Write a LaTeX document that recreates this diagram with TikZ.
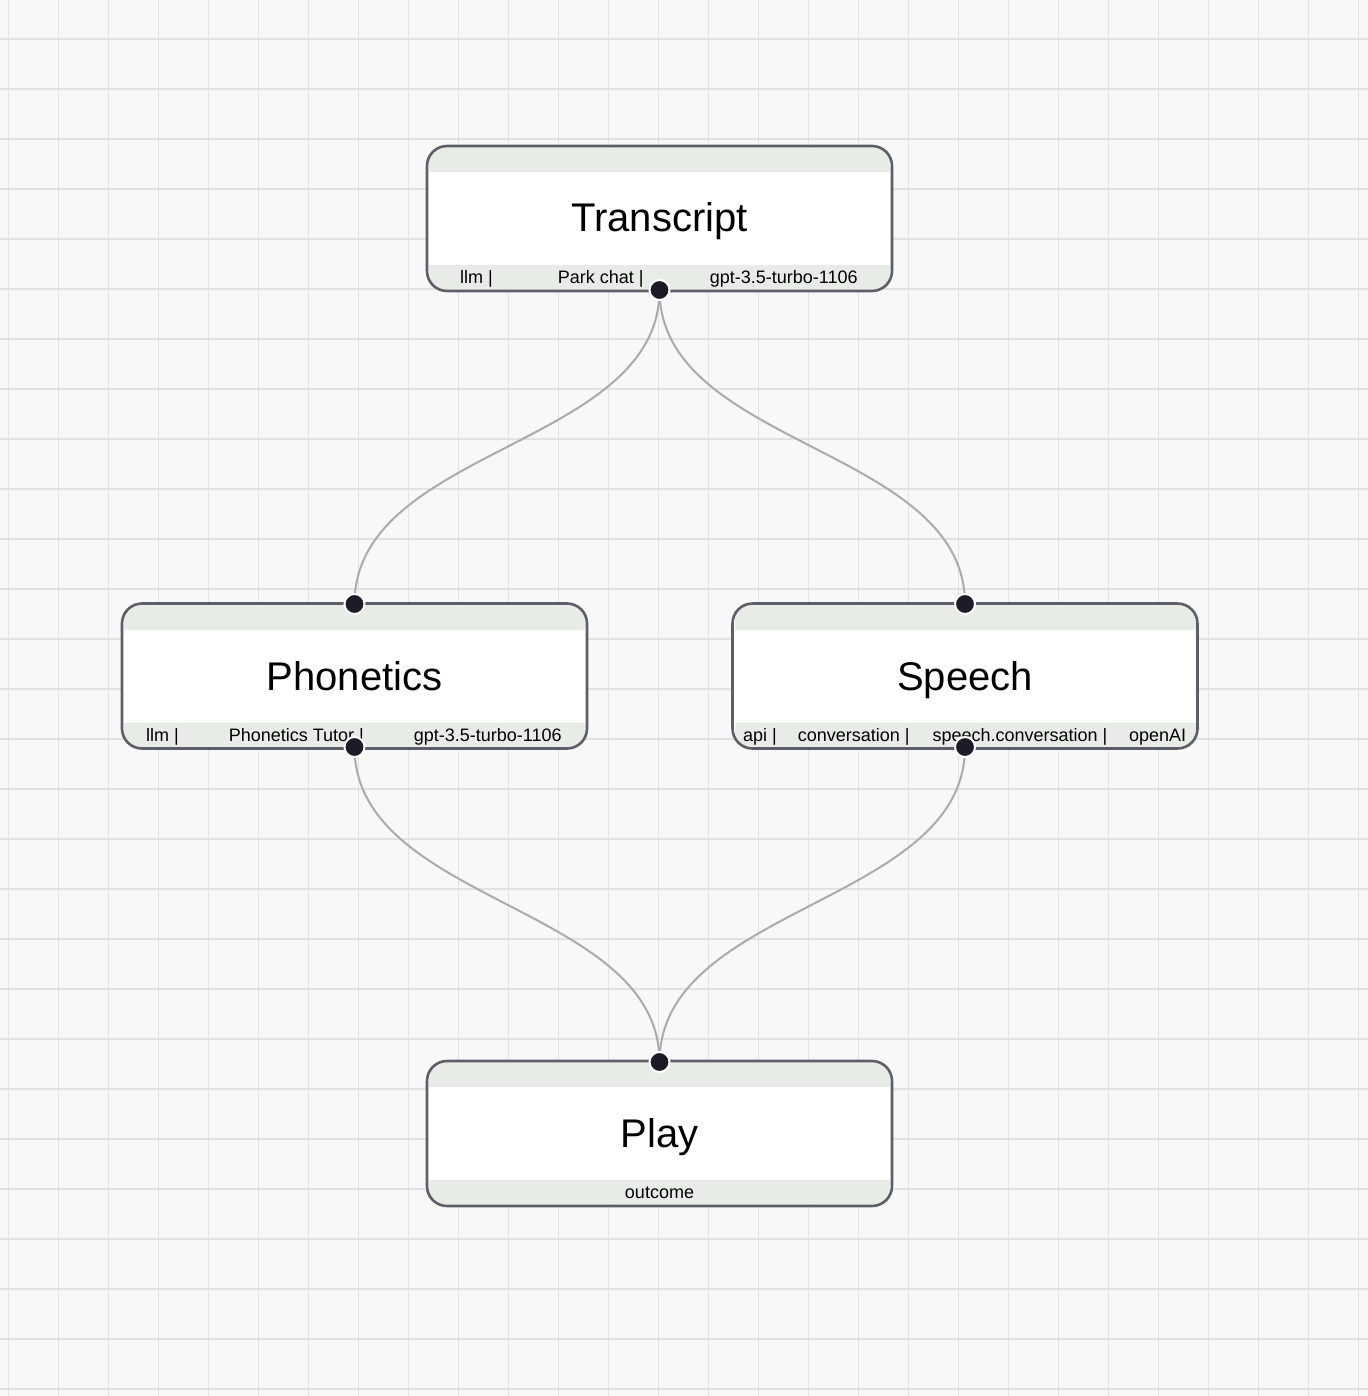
\documentclass[tikz,border=0pt]{standalone}
\usepackage{fontspec}
\setmainfont{Liberation Sans}
\definecolor{bgc}{HTML}{F8F8F8}
\definecolor{gridc}{HTML}{E2E2E2}
\definecolor{bandc}{HTML}{E8ECE7}
\definecolor{borderc}{HTML}{5E5E68}
\definecolor{edgec}{HTML}{ABABAF}
\definecolor{dotc}{HTML}{1C1C28}
\begin{document}
\begin{tikzpicture}[x=0.5pt,y=-0.5pt,
  gridline/.style={draw=gridc,line width=0.6pt},
  boxnode/.style={rectangle,minimum width=232.5pt,minimum height=72.5pt,inner sep=0pt,outer sep=0pt,fill=white,rounded corners=10pt},
  boxborder/.style={draw=borderc,line width=1.3pt,rounded corners=10pt},
  band/.style={fill=bandc},
  title/.style={anchor=base,inner sep=0pt,font=\fontsize{20pt}{24pt}\selectfont},
  lbl/.style={anchor=base,inner sep=0pt,font=\fontsize{9pt}{11pt}\selectfont},
  edge/.style={draw=edgec,line width=1pt},
  port/.style={circle,fill=dotc,draw=white,line width=1pt,minimum size=10pt,inner sep=0pt}
]
\fill[bgc] (0,0) rectangle (1368,1396);
\useasboundingbox (0,0) rectangle (1368,1396);
\foreach \i in {0,...,27} {\draw[gridline] (8.5+50*\i,0) -- (8.5+50*\i,1396);}
\foreach \j in {0,...,27} {\draw[gridline] (0,39+50*\j) -- (1368,39+50*\j);}

% boxes
\node[boxnode] (tr) at (659.5,218.5) {};
\node[boxnode] (ph) at (354.5,676) {};
\node[boxnode] (sp) at (965,676) {};
\node[boxnode] (pl) at (659.5,1133.5) {};

\foreach \n in {tr,ph,sp,pl} {
  \begin{scope}
  \clip[rounded corners=10pt] (\n.south west) rectangle (\n.north east);
  \fill[band] ([shift={(2,1)}]\n.north west) rectangle ([shift={(-2,26)}]\n.north east);
  \fill[band] ([shift={(2,-26)}]\n.south west) rectangle ([shift={(-2,-1)}]\n.south east);
  \end{scope}
  \draw[boxborder] (\n.south west) rectangle (\n.north east);
}

% titles
\node[title] (tr-title) at (659.5,232) {Transcript};
\node[title] (ph-title) at (354.5,690) {Phonetics};
\node[title] (sp-title) at (965,690) {Speech};
\node[title] (pl-title) at (659.5,1147) {Play};

% labels
\node[lbl] (tr-l1) at (476.5,283) {llm |};
\node[lbl] (tr-l2) at (600.8,283) {Park chat |};
\node[lbl] (tr-l3) at (783.8,283) {gpt-3.5-turbo-1106};
\node[lbl] (ph-l1) at (162.5,741) {llm |};
\node[lbl] (ph-l2) at (296.3,741) {Phonetics Tutor |};
\node[lbl] (ph-l3) at (487.7,741) {gpt-3.5-turbo-1106};
\node[lbl] (sp-l1) at (760,741) {api |};
\node[lbl] (sp-l2) at (853.8,741) {conversation |};
\node[lbl] (sp-l3) at (1020,741) {speech.conversation |};
\node[lbl] (sp-l4) at (1157.7,741) {openAI};
\node[lbl] (pl-l1) at (659.5,1198) {outcome};

% ports
\coordinate (tr-out) at (659.5,290);
\coordinate (ph-in) at (354.5,604);
\coordinate (ph-out) at (354.5,747);
\coordinate (sp-in) at (965,604);
\coordinate (sp-out) at (965,747);
\coordinate (pl-in) at (659.5,1062);

% edges
\draw[edge] (tr-out) .. controls +(0,157) and +(0,-157) .. (ph-in);
\draw[edge] (tr-out) .. controls +(0,157) and +(0,-157) .. (sp-in);
\draw[edge] (ph-out) .. controls +(0,157) and +(0,-157) .. (pl-in);
\draw[edge] (sp-out) .. controls +(0,157) and +(0,-157) .. (pl-in);

% port dots
\foreach \p in {tr-out,ph-in,ph-out,sp-in,sp-out,pl-in} {
  \node[port] at (\p) {};
}
\end{tikzpicture}
\end{document}
